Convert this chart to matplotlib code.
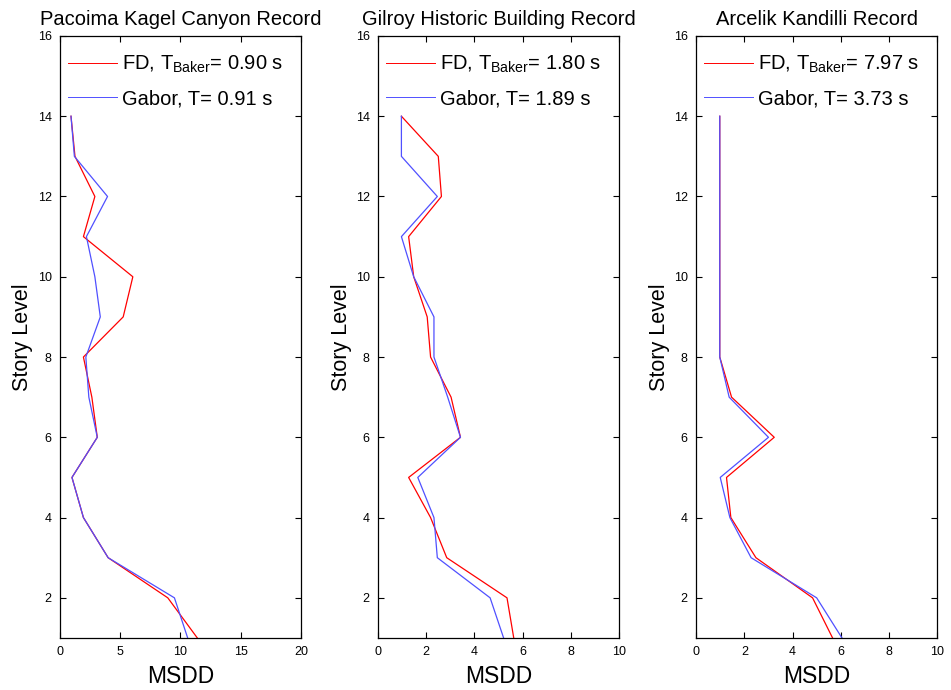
import matplotlib
matplotlib.use("Agg")
import matplotlib.pyplot as plt

plt.rcParams["font.family"] = ["Liberation Sans", "DejaVu Sans"]
plt.rcParams["mathtext.fontset"] = "custom"
plt.rcParams["mathtext.rm"] = "Liberation Sans"
plt.rcParams["mathtext.it"] = "Liberation Sans"

# =============================================================================
# DATA
# =============================================================================

stories = [14, 13, 12, 11, 10, 9, 8, 7, 6, 5, 4, 3, 2, 1]

titles = [
    "Pacoima Kagel Canyon Record",
    "Gilroy Historic Building Record",
    "Arcelik Kandilli Record",
]

fd_labels = [
    r"FD, T$_{\mathrm{Baker}}$= 0.90 s",
    r"FD, T$_{\mathrm{Baker}}$= 1.80 s",
    r"FD, T$_{\mathrm{Baker}}$= 7.97 s",
]

gabor_labels = [
    "Gabor, T= 0.91 s",
    "Gabor, T= 1.89 s",
    "Gabor, T= 3.73 s",
]

fd_pacoima = [0.92, 1.25, 2.9, 1.95, 6.05, 5.25, 1.95, 2.65, 3.1, 1.0, 1.95, 4.0, 8.95, 11.4]
gabor_pacoima = [0.92, 1.2, 3.95, 2.2, 2.9, 3.35, 2.15, 2.4, 3.1, 1.0, 1.95, 4.0, 9.5, 10.6]

fd_gilroy = [0.97, 2.5, 2.63, 1.27, 1.48, 2.04, 2.18, 3.03, 3.42, 1.27, 2.18, 2.85, 5.35, 5.63]
gabor_gilroy = [0.97, 0.97, 2.46, 0.97, 1.48, 2.32, 2.32, 2.89, 3.42, 1.65, 2.32, 2.46, 4.65, 5.21]

fd_arcelik = [0.98, 0.98, 0.98, 0.98, 0.98, 0.98, 0.98, 1.47, 3.24, 1.26, 1.44, 2.48, 4.83, 5.66]
gabor_arcelik = [0.98, 0.98, 0.98, 0.98, 0.98, 0.98, 0.98, 1.37, 3.0, 1.0, 1.4, 2.28, 5.0, 6.05]

fd_series = [fd_pacoima, fd_gilroy, fd_arcelik]
gabor_series = [gabor_pacoima, gabor_gilroy, gabor_arcelik]

x_limits = [20, 10, 10]
x_ticks = [[0, 5, 10, 15, 20], [0, 2, 4, 6, 8, 10], [0, 2, 4, 6, 8, 10]]
y_ticks = [2, 4, 6, 8, 10, 12, 14, 16]

# =============================================================================
# FIGURE
# =============================================================================

fig = plt.figure(figsize=(9.51, 6.9), dpi=100)

lefts = [0.063, 0.3975, 0.732]
width = 0.2535
bottom = 0.0754
height = 0.8725

for i in range(3):

    ax = fig.add_axes([lefts[i], bottom, width, height])

    ax.plot(fd_series[i], stories, color="#ff0000", linewidth=0.9, label=fd_labels[i])
    ax.plot(gabor_series[i], stories, color="#5050ff", linewidth=0.9, label=gabor_labels[i])

    ax.set_xlim(0, x_limits[i])
    ax.set_ylim(1, 16)
    ax.set_xticks(x_ticks[i])
    ax.set_yticks(y_ticks)

    ax.tick_params(direction="in", top=True, right=True, labelsize=9,
                   length=4, width=0.8, pad=6)

    for spine in ax.spines.values():
        spine.set_linewidth(0.9)

    ax.set_title(titles[i], fontsize=14.5, pad=8)
    ax.set_xlabel("MSDD", fontsize=16.5, labelpad=5)
    ax.set_ylabel("Story Level", fontsize=15.5, labelpad=3)

    leg = ax.legend(loc="upper right", frameon=False, fontsize=14.5,
                    handlelength=2.4, handletextpad=0.25, labelspacing=0.7,
                    borderaxespad=0.3, borderpad=0.6)
    for line in leg.get_lines():
        line.set_linewidth(0.7)

fig.savefig("out.png", dpi=100)
